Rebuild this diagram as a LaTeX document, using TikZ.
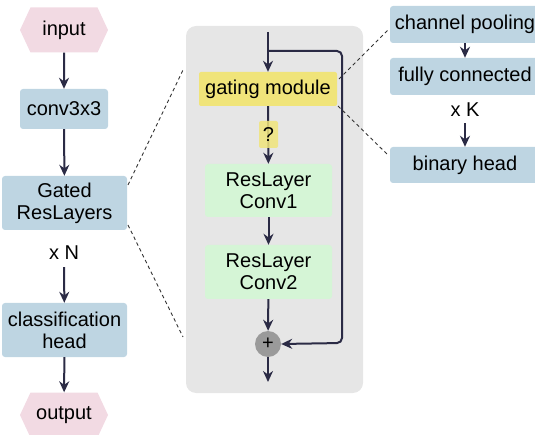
\documentclass[tikz,border=0pt]{standalone}
\usepackage{fontspec}
\setmainfont{Liberation Sans}
\usetikzlibrary{arrows.meta,shapes.symbols}
\definecolor{boxblue}{HTML}{BED5E2}
\definecolor{hexpink}{HTML}{F2DAE3}
\definecolor{panelgray}{HTML}{E6E6E6}
\definecolor{gateyellow}{HTML}{F0E47A}
\definecolor{layergreen}{HTML}{D5F5D6}
\definecolor{arrowdark}{HTML}{2B2B45}
\definecolor{sumgray}{HTML}{9A9A9A}
\tikzset{
  every node/.style={font=\fontsize{20}{22}\selectfont, align=center, inner sep=0pt},
  bluebox/.style={fill=boxblue, rounded corners=3pt},
  hexa/.style={shape=signal, signal to=west and east, signal pointer angle=130,
    fill=hexpink, minimum width=88pt, minimum height=45pt},
  gatebox/.style={fill=gateyellow, rounded corners=2pt},
  layerbox/.style={fill=layergreen, rounded corners=3pt, minimum width=127pt},
  flow/.style={draw=arrowdark, line width=2pt, -{Stealth[length=11pt,width=10pt]}},
  zoomline/.style={draw=black!80, line width=0.9pt, dash pattern=on 3.5pt off 3pt},
}
\begin{document}
\begin{tikzpicture}[x=1pt,y=-1pt]
\clip (0,0) rectangle (535,435);

% main network column
\node[hexa] (in) at (64,30) {input};
\node[bluebox, minimum width=88pt, minimum height=40pt] (conv) at (64,109) {conv3x3};
\node[bluebox, minimum width=125pt, minimum height=54pt] (gated) at (64.5,203) {Gated\\ResLayers};
\node (xn) at (64,253) {x N};
\node[bluebox, minimum width=125pt, minimum height=54pt] (cls) at (64.5,330) {classification\\head};
\node[hexa] (out) at (64,415) {output};

\draw[flow] (in) -- (conv);
\draw[flow] (conv) -- (gated);
\draw[flow, shorten <=7pt] (xn) -- (cls);
\draw[flow] (cls) -- (out);

% expanded gated residual layer
\node[fill=panelgray, rounded corners=10pt, minimum width=177pt, minimum height=367pt] (panel) at (274.5,209.5) {};
\coordinate (top) at (268,32);
\coordinate (branch) at (268,51);
\node[gatebox, minimum width=138pt, minimum height=34pt] (gate) at (268,89) {gating module};
\node[layerbox, minimum height=53pt] (c1) at (268.5,190.5) {ResLayer\\Conv1};
\node[layerbox, minimum height=54pt] (c2) at (268.5,272) {ResLayer\\Conv2};
\node[circle, fill=sumgray, minimum size=26pt, font=\fontsize{20}{20}\selectfont] (sum) at (268,344) {+};
\coordinate (bot) at (268,382);

\draw[flow] (top) -- (gate);
\draw[flow] (gate) -- (c1);
\node[gatebox, fill opacity=0.85, text opacity=1, minimum width=19pt, minimum height=27pt] (q) at (268.5,134.5) {?};
\draw[flow] (c1) -- (c2);
\draw[flow] (c2) -- (sum);
\draw[flow] (sum) -- (bot);
\draw[flow, rounded corners=5pt] (branch) -- (342,51) -- (342,343) -- (sum.east);

% gating module details
\node[bluebox, minimum width=150pt, minimum height=37pt] (pool) at (465,24.5) {channel pooling};
\node[bluebox, minimum width=150pt, minimum height=37pt] (fc) at (465,76.5) {fully connected};
\node (xk) at (465,110) {x K};
\node[bluebox, minimum width=150pt, minimum height=36pt] (head) at (465,165) {binary head};
\draw[flow] (pool) -- (fc);
\draw[flow, shorten <=6pt] (xk) -- (head);

% zoom guides
\coordinate (gA) at (128,185);
\coordinate (gB) at (128,225);
\coordinate (pA) at (184,68);
\coordinate (pB) at (183,337);
\coordinate (mA) at (339,79);
\coordinate (mB) at (338,106);
\coordinate (rA) at (388,30);
\coordinate (rB) at (388,155);
\draw[zoomline] (gA) -- (pA);
\draw[zoomline] (gB) -- (pB);
\draw[zoomline] (mA) -- (rA);
\draw[zoomline] (mB) -- (rB);
\end{tikzpicture}
\end{document}
